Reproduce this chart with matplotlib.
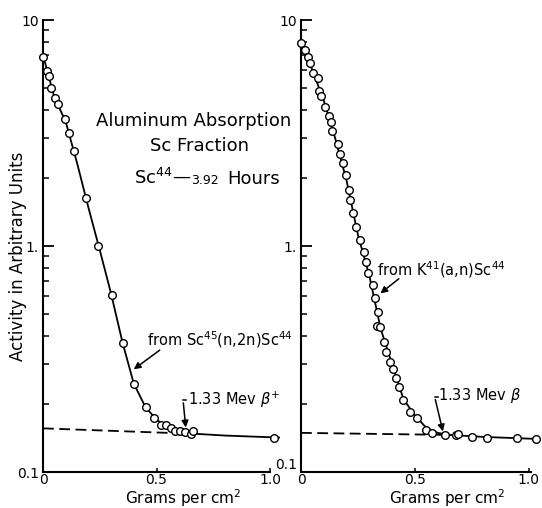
import numpy as np
import matplotlib.pyplot as plt
from matplotlib.ticker import LogLocator, NullFormatter

# left panel: Sc45(n,2n)Sc44
left_x = [0.00, 0.016, 0.025, 0.035, 0.052, 0.065, 0.096, 0.115, 0.137, 0.189, 0.244,
          0.303, 0.351, 0.401, 0.452, 0.489, 0.518, 0.541, 0.563, 0.581, 0.604, 0.626,
          0.652, 0.662, 1.019]
left_y = [6.87, 5.96, 5.68, 5.02, 4.52, 4.25, 3.64, 3.17, 2.62, 1.63, 1.00,
          0.605, 0.371, 0.244, 0.193, 0.174, 0.162, 0.161, 0.157, 0.152, 0.152, 0.150,
          0.147, 0.152, 0.142]
left_curve_x = [0.0, 0.05, 0.10, 0.15, 0.20, 0.25, 0.30, 0.35, 0.40, 0.45, 0.50, 0.55,
                0.60, 0.65, 0.80, 1.04]
left_curve_y = [7.0, 4.55, 3.55, 2.33, 1.48, 0.96, 0.615, 0.375, 0.246, 0.195, 0.170,
                0.159, 0.153, 0.148, 0.145, 0.142]
left_bg_x = [0.0, 0.63]
left_bg_y = [0.156, 0.148]

# right panel: K41(a,n)Sc44
right_x = [0.0, 0.017, 0.029, 0.039, 0.053, 0.073, 0.080, 0.090, 0.107, 0.122, 0.130,
           0.138, 0.161, 0.170, 0.186, 0.196, 0.209, 0.213, 0.230, 0.242, 0.257, 0.275,
           0.286, 0.296, 0.314, 0.323, 0.336, 0.332, 0.348, 0.365, 0.373, 0.391, 0.406,
           0.416, 0.430, 0.449, 0.478, 0.510, 0.547, 0.575, 0.633, 0.681, 0.691, 0.752,
           0.817, 0.949, 1.032]
right_y = [7.94, 7.36, 6.83, 6.43, 5.85, 5.52, 4.87, 4.62, 4.13, 3.76, 3.53,
           3.23, 2.83, 2.55, 2.32, 2.06, 1.77, 1.60, 1.40, 1.21, 1.06, 0.944,
           0.853, 0.757, 0.671, 0.587, 0.512, 0.442, 0.436, 0.377, 0.341, 0.308, 0.285,
           0.260, 0.238, 0.208, 0.185, 0.173, 0.153, 0.149, 0.146, 0.146, 0.147, 0.143,
           0.141, 0.142, 0.140]
right_curve_x = [0.0, 0.05, 0.10, 0.15, 0.20, 0.25, 0.30, 0.35, 0.40, 0.45, 0.50, 0.55,
                 0.60, 0.65, 0.80, 1.04]
right_curve_y = [8.0, 6.0, 4.4, 3.0, 1.95, 1.12, 0.74, 0.43, 0.30, 0.21, 0.178, 0.157,
                 0.149, 0.146, 0.143, 0.140]
right_bg_x = [0.0, 0.63]
right_bg_y = [0.149, 0.146]

x_ticks = [0, 0.5, 1.0]
x_labels = ["0", "0.5", "1.0"]
y_ticks = [0.1, 1, 10]
y_labels = ["0.1", "1.", "10"]

W, H = 542, 508
plt.rcParams['font.family'] = ['DejaVu Sans']


def fx(px):
    return px / W


def fy(py):
    return 1 - py / H


fig = plt.figure(figsize=(W / 100, H / 100), dpi=100)
ax1 = fig.add_axes([fx(43), fy(472), 227 / W, 452 / H])
ax2 = fig.add_axes([fx(301), fy(472), 230 / W, 452 / H])


def style(ax, xmax):
    ax.set_yscale('log')
    ax.set_ylim(0.1, 10)
    ax.set_xlim(0, xmax)
    for s in ['top', 'right']:
        ax.spines[s].set_visible(False)
    for s in ['left', 'bottom']:
        ax.spines[s].set_linewidth(1.5)
    ax.set_yticks(y_ticks, y_labels)
    ax.yaxis.set_minor_locator(LogLocator(base=10, subs=np.arange(2, 10)))
    ax.yaxis.set_minor_formatter(NullFormatter())
    ax.set_xticks(x_ticks, x_labels)
    ax.tick_params(axis='y', which='major', direction='in', length=8, width=1.3,
                   labelsize=10, pad=3)
    ax.tick_params(axis='y', which='minor', direction='in', length=4, width=1.1)
    ax.tick_params(axis='x', which='major', direction='in', length=3, width=1.1,
                   labelsize=10, pad=1)


style(ax1, 1.0)
style(ax2, 1.01)
# right panel's 0.1 sits a little above the corner
ax2.get_yticklabels()[0].set_va('bottom')

for ax, cx, cy, bx, by, px_, py_ in [
        (ax1, left_curve_x, left_curve_y, left_bg_x, left_bg_y, left_x, left_y),
        (ax2, right_curve_x, right_curve_y, right_bg_x, right_bg_y, right_x, right_y)]:
    ax.plot(cx, cy, color='black', lw=1.3, clip_on=False)
    ax.plot(bx, by, color='black', lw=1.3, ls=(0, (6, 3)))
    ax.plot(px_, py_, ls='none', marker='o', ms=5.5, mfc='white', mec='black',
            mew=1.0, clip_on=False, zorder=3)

fig.text(fx(183), fy(504), "Grams per cm$^2$", ha='center', va='baseline', fontsize=11)
fig.text(fx(447), fy(504), "Grams per cm$^2$", ha='center', va='baseline', fontsize=11)

fig.text(fx(18), fy(256), "Activity in Arbitrary Units", rotation=90,
         ha='center', va='center', fontsize=12)

# title block
fig.text(fx(194), fy(121), "Aluminum Absorption", ha='center', va='center', fontsize=13)
fig.text(fx(199), fy(146), "Sc Fraction", ha='center', va='center', fontsize=13)
fig.text(fx(134), fy(184), r"Sc$^{44}$—", ha='left', va='baseline', fontsize=13)
fig.text(fx(191), fy(184), "3.92", ha='left', va='baseline', fontsize=9)
fig.text(fx(280), fy(184), "Hours", ha='right', va='baseline', fontsize=13)

arrow = dict(arrowstyle='-|>', color='black', lw=1.1, mutation_scale=10)

# left annotations
ax1.text(0.458, 0.384, r"from Sc$^{45}$(n,2n)Sc$^{44}$", ha='left', va='center',
         fontsize=10.5)
ax1.annotate("", xy=(0.39, 0.28), xytext=(0.524, 0.352), arrowprops=arrow)
ax1.text(0.64, 0.208, r"1.33 Mev $\beta^{+}$", ha='left', va='center', fontsize=10.5)
ax1.annotate("", xy=(0.63, 0.153), xytext=(0.617, 0.208), arrowprops=arrow)
ax1.plot([0.617, 0.632], [0.208, 0.208], color='black', lw=1.1)

# right annotations
ax2.text(0.335, 0.783, r"from K$^{41}$(a,n)Sc$^{44}$", ha='left', va='center',
         fontsize=10.5)
ax2.annotate("", xy=(0.339, 0.606), xytext=(0.439, 0.729), arrowprops=arrow)
ax2.text(0.60, 0.218, r"1.33 Mev $\beta$", ha='left', va='center', fontsize=10.5)
ax2.annotate("", xy=(0.626, 0.147), xytext=(0.587, 0.215), arrowprops=arrow)
ax2.plot([0.587, 0.602], [0.215, 0.215], color='black', lw=1.1)

fig.savefig('out.png', dpi=100)
